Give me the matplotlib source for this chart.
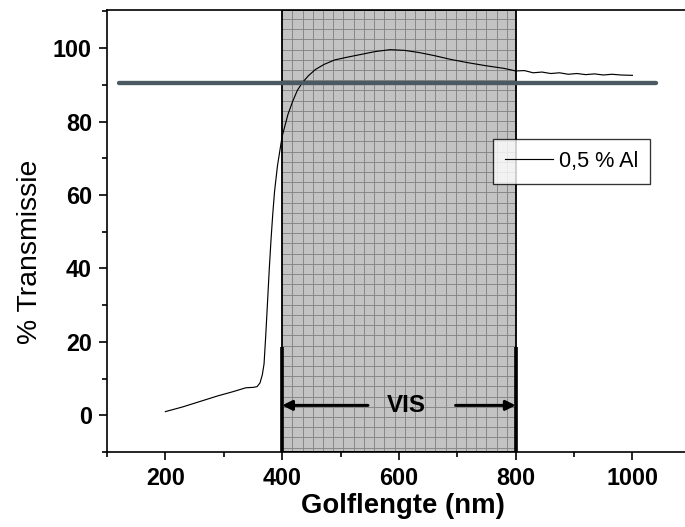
import numpy as np
import matplotlib
matplotlib.use("Agg")
import matplotlib.pyplot as plt
from matplotlib.ticker import MultipleLocator

plt.rcParams['font.family'] = ['Liberation Sans', 'DejaVu Sans']

# transmission spectrum, 0,5 % Al
golf = [200, 230, 260, 290, 315, 338, 350, 357, 362, 366, 369, 372, 375, 378,
        381, 384, 387, 392, 400, 410, 418, 426, 435, 445, 457, 472, 490, 510,
        535, 560, 585, 610, 635, 660, 690, 720, 750, 780, 800, 815, 830, 845,
        860, 875, 890, 905, 920, 935, 950, 965, 980, 1000]
trans = [1.0, 2.3, 3.8, 5.3, 6.4, 7.5, 7.6, 7.8, 8.8, 11, 14, 22, 31, 40,
         48, 55, 61, 68, 76, 82, 85.5, 88.5, 90.7, 92.5, 94.2, 95.6, 96.8, 97.5,
         98.3, 99.1, 99.6, 99.4, 98.8, 98.0, 96.9, 96.0, 95.2, 94.5, 93.8, 93.9, 93.3, 93.5,
         93.1, 93.3, 92.9, 93.1, 92.8, 93.0, 92.7, 92.9, 92.7, 92.6]

vis_lo, vis_hi = 400, 800          # visible range
ref_level = 90.4                   # reference line
ref_x = [120, 1040]
vis_y = 2.7                        # arrow height
vis_arrow_ends = [547, 697]
vis_text_x = 612
bar_top = 18.5

y_lo, y_hi = -10, 110.4

fig = plt.figure(figsize=(685 / 120, 527 / 120), dpi=120)
ax = fig.add_axes([0.1562, 0.1423, 0.8438, 0.8387])
ax.set_xlim(100, 1090)
ax.set_ylim(y_lo, y_hi)

# shaded VIS band with fine grid
ax.axvspan(vis_lo, vis_hi, facecolor='#c3c3c3', edgecolor='none', zorder=1)
gx = np.arange(vis_lo + 17.5, vis_hi, 17.5)
gy = np.arange(y_lo + 1.2, y_hi, 2.78)
ax.vlines(gx, y_lo, y_hi, colors='#858585', lw=0.55, zorder=1.2)
ax.hlines(gy, vis_lo, vis_hi, colors='#858585', lw=0.55, zorder=1.2)
ax.axvspan(vis_lo, vis_hi, facecolor='none', edgecolor='black', lw=1.1, zorder=2)

ax.vlines([vis_lo, vis_hi], y_lo, bar_top, colors='black', lw=2.2, zorder=3)
for end, tail in [(vis_lo, vis_arrow_ends[0]), (vis_hi, vis_arrow_ends[1])]:
    ax.annotate('', xy=(end, vis_y), xytext=(tail, vis_y),
                arrowprops=dict(arrowstyle='-|>', lw=1.8, color='black',
                                mutation_scale=12, shrinkA=0, shrinkB=0), zorder=3)
ax.text(vis_text_x, vis_y, 'VIS', ha='center', va='center', fontsize=14.5,
        fontweight='bold', zorder=3)

ax.plot(golf, trans, color='black', lw=0.7, label='0,5 % Al', zorder=4)
ax.plot(ref_x, [ref_level, ref_level], color='#4b5a62', lw=2.6,
        solid_capstyle='round', zorder=5)

ax.spines['right'].set_visible(False)
for s in ['left', 'bottom', 'top']:
    ax.spines[s].set_linewidth(1.0)

ax.xaxis.set_minor_locator(MultipleLocator(100))
ax.yaxis.set_major_locator(MultipleLocator(20))
ax.yaxis.set_minor_locator(MultipleLocator(10))
ax.set_xticks([200, 400, 600, 800, 1000])
ax.set_yticks([0, 20, 40, 60, 80, 100])
ax.tick_params(which='major', direction='out', length=5, width=1.0, labelsize=14, pad=4)
ax.tick_params(which='minor', direction='out', length=3, width=1.0)
ax.tick_params(top=False, right=False, which='both')
for lab in ax.get_xticklabels() + ax.get_yticklabels():
    lab.set_fontweight('bold')

ax.set_xlabel('Golflengte (nm)', fontsize=16.5, fontweight='bold')
ax.set_ylabel('% Transmissie', fontsize=17)
ax.xaxis.set_label_coords(0.512, -0.092)
ax.yaxis.set_label_coords(-0.11, 0.452)

leg = ax.legend(loc='upper left', bbox_to_anchor=(0.668, 0.708), fontsize=13,
                frameon=True, fancybox=False, handlelength=2.2, borderpad=0.55,
                handletextpad=0.3, borderaxespad=0)
leg.get_frame().set_edgecolor('black')
leg.get_frame().set_linewidth(0.8)
leg.set_zorder(6)

fig.savefig('out.png', dpi=120)
